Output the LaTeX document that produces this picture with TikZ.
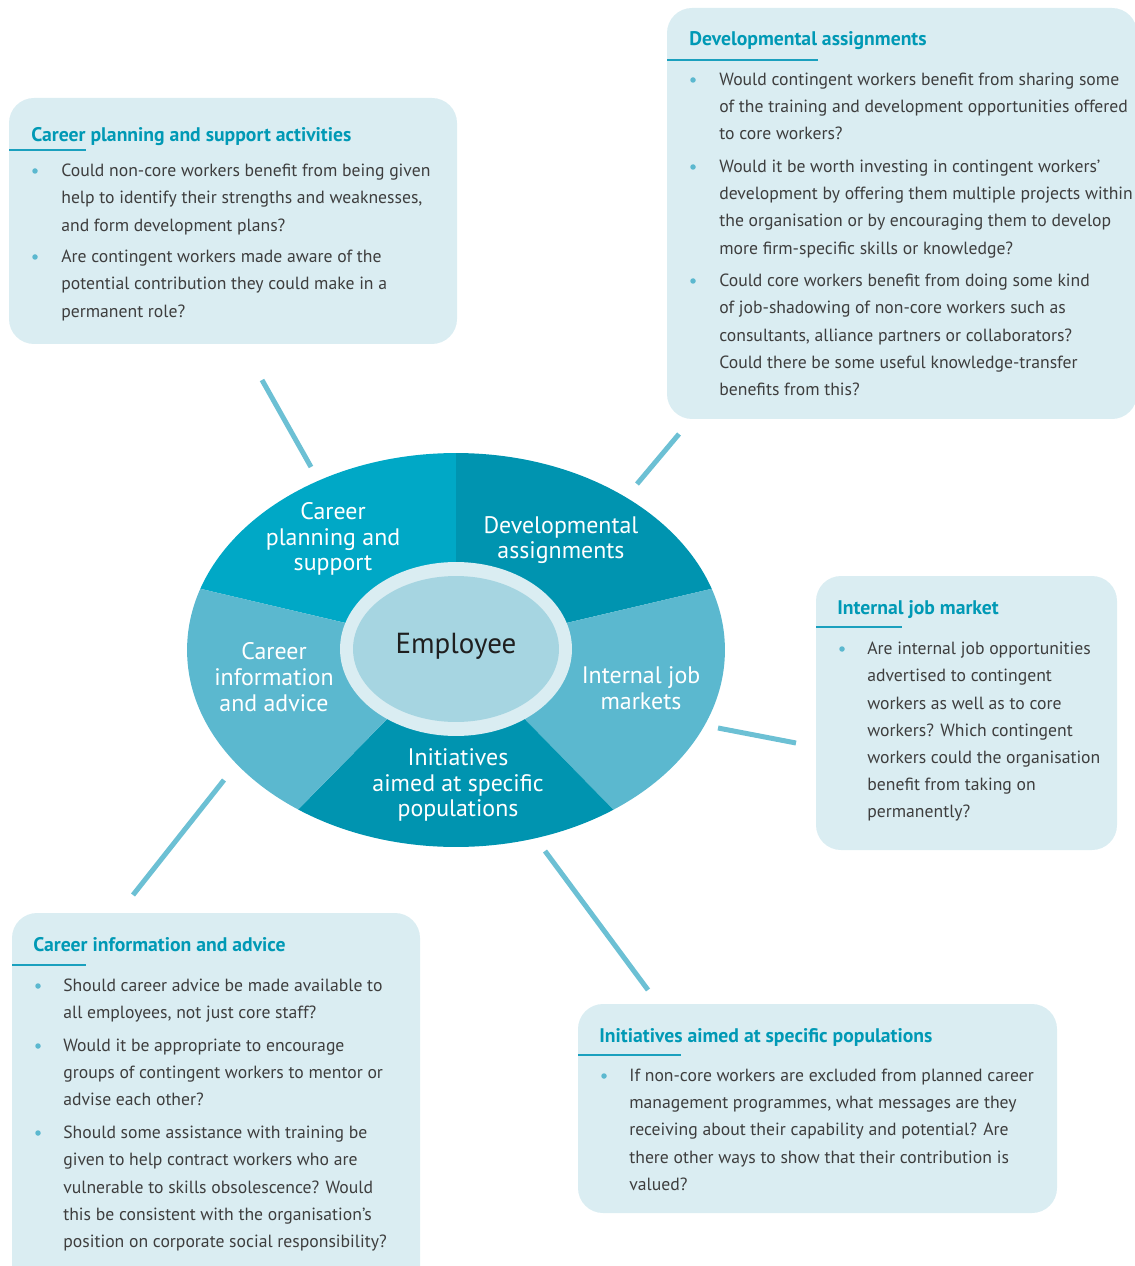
\documentclass[tikz,border=0pt]{standalone}
\usepackage{fontspec}
\setmainfont{PT Sans}
\usetikzlibrary{positioning}
\definecolor{boxfill}{RGB}{218,237,242}
\definecolor{headteal}{RGB}{0,153,181}
\definecolor{bodygrey}{RGB}{62,62,62}
\definecolor{dotblue}{RGB}{91,184,207}
\definecolor{linkblue}{RGB}{108,192,212}
\definecolor{segbright}{RGB}{0,168,198}
\definecolor{segdark}{RGB}{0,148,176}
\definecolor{seglight}{RGB}{91,184,207}
\definecolor{ringpale}{RGB}{218,237,242}
\definecolor{corefill}{RGB}{166,213,225}
\definecolor{ruleteal}{RGB}{26,160,190}

\begin{document}
\begin{tikzpicture}[x=0.02cm, y=-0.02cm,
    panel/.style = {fill=boxfill, rounded corners=0.5cm},
    head/.style = {anchor=base west, inner sep=0pt, text=headteal,
                   font=\fontsize{11.2}{13}\selectfont\bfseries},
    item/.style = {anchor=north west, inner sep=0pt, align=left, text=bodygrey,
                   font=\fontsize{10.05}{15.4}\selectfont},
    dot/.style = {circle, fill=dotblue, inner sep=0pt, minimum size=0.11cm},
    rule/.style = {ruleteal, line width=0.04cm},
    link/.style = {linkblue, line width=0.1cm},
    seglabel/.style = {align=center, text=white, inner sep=0pt,
                       font=\fontsize{13.6}{14.6}\selectfont}]
    \useasboundingbox (0,0) rectangle (1134,1266);

    % panels
    \fill[panel] (9,98) rectangle (457,344);
    \fill[panel] (667,8) rectangle (1137,419);
    \fill[panel] (816,576) rectangle (1117,850);
    \fill[panel] (12,913) rectangle (420,1300);
    \fill[panel] (578,1004) rectangle (1057,1213);

    % career planning panel
    \node[head] (plan-head) at (31,142) {Career planning and support activities};
    \draw[rule] (9,150) -- (86,150);
    \node[dot] (plan-d1) at (35,171) {};
    \node[item] (plan-q1) at (61,164) {Could non-core workers benefit from being given\\help to identify their strengths and weaknesses,\\and form development plans?};
    \node[dot] (plan-d2) at (35,257) {};
    \node[item] (plan-q2) at (61,250) {Are contingent workers made aware of the\\potential contribution they could make in a\\permanent role?};

    % developmental panel
    \node[head] (dev-head) at (689,46) {Developmental assignments};
    \draw[rule] (667,60) -- (818,60);
    \node[dot] (dev-d1) at (693,80) {};
    \node[item] (dev-q1) at (719,73) {Would contingent workers benefit from sharing some\\of the training and development opportunities offered\\to core workers?};
    \node[dot] (dev-d2) at (693,167) {};
    \node[item] (dev-q2) at (719,160) {Would it be worth investing in contingent workers’\\development by offering them multiple projects within\\the organisation or by encouraging them to develop\\more firm-specific skills or knowledge?};
    \node[dot] (dev-d3) at (693,281) {};
    \node[item] (dev-q3) at (719,274) {Could core workers benefit from doing some kind\\of job-shadowing of non-core workers such as\\consultants, alliance partners or collaborators?\\Could there be some useful knowledge-transfer\\benefits from this?};

    % internal job market panel
    \node[head] (job-head) at (837,614) {Internal job market};
    \draw[rule] (816,627) -- (902,627);
    \node[dot] (job-d1) at (842,649) {};
    \node[item] (job-q1) at (867,642) {Are internal job opportunities\\advertised to contingent\\workers as well as to core\\workers? Which contingent\\workers could the organisation\\benefit from taking on\\permanently?};

    % career information panel
    \node[head] (info-head) at (33,951) {Career information and advice};
    \draw[rule] (12,965) -- (86,965);
    \node[dot] (info-d1) at (38,986) {};
    \node[item] (info-q1) at (63,979) {Should career advice be made available to\\all employees, not just core staff?};
    \node[dot] (info-d2) at (38,1046) {};
    \node[item] (info-q2) at (63,1039) {Would it be appropriate to encourage\\groups of contingent workers to mentor or\\advise each other?};
    \node[dot] (info-d3) at (38,1133) {};
    \node[item] (info-q3) at (63,1126) {Should some assistance with training be\\given to help contract workers who are\\vulnerable to skills obsolescence? Would\\this be consistent with the organisation’s\\position on corporate social responsibility?};

    % initiatives panel
    \node[head] (init-head) at (599,1042) {Initiatives aimed at specific populations};
    \draw[rule] (578,1055) -- (681,1055);
    \node[dot] (init-d1) at (604,1076) {};
    \node[item] (init-q1) at (629,1069) {If non-core workers are excluded from planned career\\management programmes, what messages are they\\receiving about their capability and potential? Are\\there other ways to show that their contribution is\\valued?};

    % wheel
    \coordinate (hub) at (456,649);
    \begin{scope}
      \clip (456,650) ellipse [x radius=5.38cm, y radius=3.94cm];
      \fill[segbright] (hub) -- (456,440) -- (74,440) -- (74,559) -- cycle;
      \fill[segdark] (hub) -- (456,440) -- (838,440) -- (838,559) -- cycle;
      \fill[seglight] (hub) -- (838,559) -- (838,888) -- (690,888) -- cycle;
      \fill[segdark] (hub) -- (690,888) -- (221,888) -- cycle;
      \fill[seglight] (hub) -- (221,888) -- (74,888) -- (74,559) -- cycle;
    \end{scope}
    \fill[ringpale] (hub) ellipse [x radius=2.32cm, y radius=1.74cm];
    \fill[corefill] (hub) ellipse [x radius=2.06cm, y radius=1.46cm];

    \node[seglabel] (w-plan) at (333,539) {Career\\planning and\\support};
    \node[seglabel] (w-dev) at (561,540) {Developmental\\assignments};
    \node[seglabel] (w-info) at (274,677) {Career\\information\\and advice};
    \node[seglabel] (w-job) at (641,688) {Internal job\\markets};
    \node[seglabel] (w-init) at (458,785) {Initiatives\\aimed at specific\\populations};
    \node[inner sep=0pt, text=black!88, font=\fontsize{16.5}{18}\selectfont] (core) at (456,646) {Employee};

    % spokes
    \coordinate (s1a) at (262,380); \coordinate (s1b) at (311,467);
    \coordinate (s2a) at (679,434); \coordinate (s2b) at (637,484);
    \coordinate (s3a) at (718,728); \coordinate (s3b) at (796,743);
    \coordinate (s4a) at (224,780); \coordinate (s4b) at (133,895);
    \coordinate (s5a) at (545,851); \coordinate (s5b) at (648,990);
    \draw[link] (s1a) -- (s1b);
    \draw[link] (s2a) -- (s2b);
    \draw[link] (s3a) -- (s3b);
    \draw[link] (s4a) -- (s4b);
    \draw[link] (s5a) -- (s5b);
\end{tikzpicture}
\end{document}
